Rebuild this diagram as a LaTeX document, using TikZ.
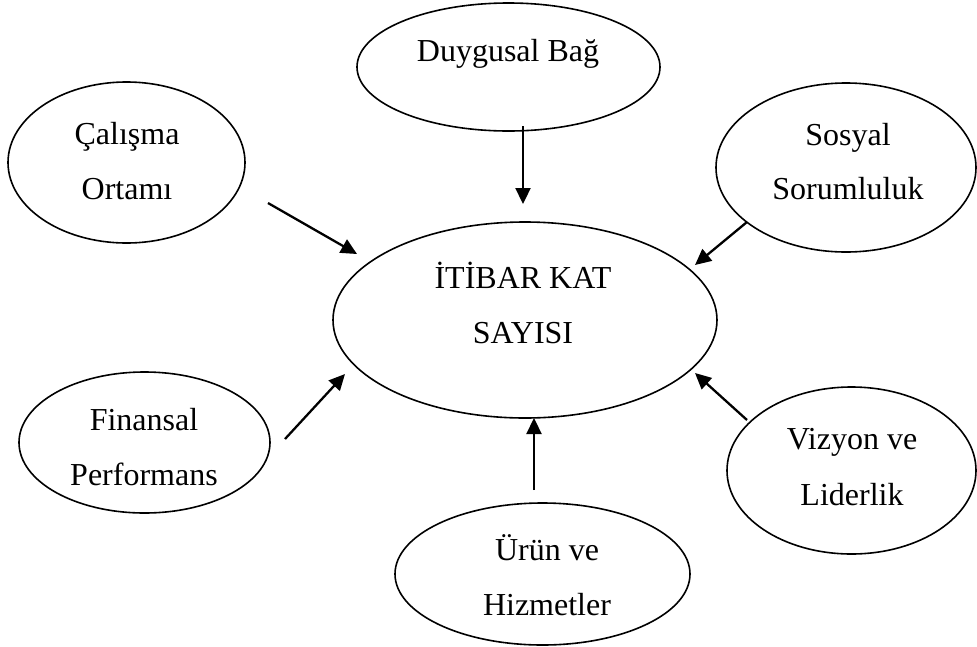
\documentclass[tikz,border=0pt]{standalone}
\usepackage{fontspec}
\setmainfont{Liberation Serif}
\usetikzlibrary{arrows.meta,shapes.geometric}

\tikzset{
  oval/.style={draw=black, line width=1.6pt, ellipse, inner sep=0pt, fill=white},
  word/.style={anchor=base, inner sep=0pt, font=\fontsize{32}{38}\selectfont},
  link/.style={line width=2.3pt, -{Triangle[length=16pt,width=15pt]}}
}

\begin{document}
\begin{tikzpicture}[x=1pt, y=-1pt]
\useasboundingbox (0,0) rectangle (977,646);
\clip (0,0) rectangle (977,646);

% ovals
\node[oval, minimum width=303pt, minimum height=128pt] (duy) at (508.5,67) {};
\node[oval, minimum width=237pt, minimum height=161pt] (cal) at (126.5,162.5) {};
\node[oval, minimum width=260pt, minimum height=169pt] (sos) at (846,167.5) {};
\node[oval, minimum width=384pt, minimum height=196pt] (itb) at (525,320) {};
\node[oval, minimum width=251pt, minimum height=141pt] (fin) at (144.5,442.5) {};
\node[oval, minimum width=249pt, minimum height=167pt] (viz) at (851.5,470.5) {};
\node[oval, minimum width=295pt, minimum height=142pt] (urn) at (542.5,574) {};

% labels, one node per line (anchored on the baseline)
\node[word] (duyA) at (508,61) {Duygusal Bağ};
\node[word] (calA) at (127,144) {Çalışma};
\node[word] (calB) at (127,199) {Ortamı};
\node[word] (sosA) at (848,145) {Sosyal};
\node[word] (sosB) at (848,199) {Sorumluluk};
\node[word] (itbA) at (523,288) {İTİBAR KAT};
\node[word] (itbB) at (523,343) {SAYISI};
\node[word] (finA) at (144,430) {Finansal};
\node[word] (finB) at (144,485) {Performans};
\node[word] (vizA) at (852,449) {Vizyon ve};
\node[word] (vizB) at (852,505) {Liderlik};
\node[word] (urnA) at (547,560) {Ürün ve};
\node[word] (urnB) at (547,615) {Hizmetler};

% arrow end points
\coordinate (duyS) at (523,126);  \coordinate (duyE) at (523,204);
\coordinate (calS) at (268,203);  \coordinate (calE) at (357,254);
\coordinate (sosS) at (747,222);  \coordinate (sosE) at (695,265);
\coordinate (finS) at (285,439);  \coordinate (finE) at (345,374);
\coordinate (vizS) at (747,420);  \coordinate (vizE) at (695,373);
\coordinate (urnS) at (534,490);  \coordinate (urnE) at (534,418);

% influences pointing at the centre
\draw[link] (duyS) -- (duyE);
\draw[link] (calS) -- (calE);
\draw[link] (sosS) -- (sosE);
\draw[link] (finS) -- (finE);
\draw[link] (vizS) -- (vizE);
\draw[link] (urnS) -- (urnE);
\end{tikzpicture}
\end{document}
